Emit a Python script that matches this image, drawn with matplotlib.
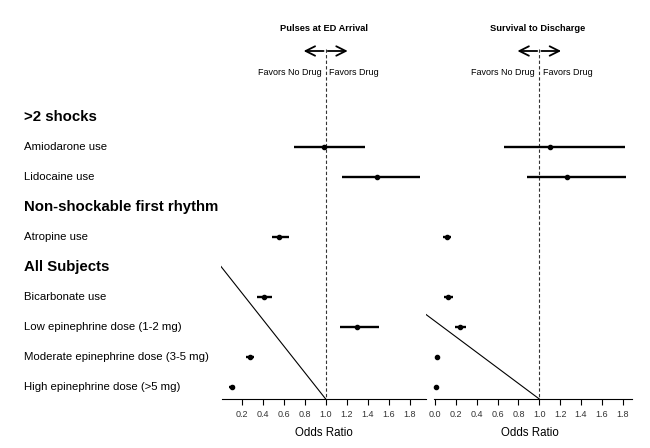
import numpy as np
import matplotlib
matplotlib.use("Agg")
import matplotlib.pyplot as plt
from matplotlib.transforms import blended_transform_factory

plt.rcParams["font.family"] = ["Liberation Sans", "DejaVu Sans"]

# Data
group_titles = [">2 shocks", "Non-shockable first rhythm", "All Subjects"]
drug_labels = ["Amiodarone use", "Lidocaine use", "Atropine use", "Bicarbonate use",
               "Low epinephrine dose (1-2 mg)", "Moderate epinephrine dose (3-5 mg)",
               "High epinephrine dose (>5 mg)"]
drug_group = [0, 0, 1, 2, 2, 2, 2]

pulses_or = [0.98, 1.49, 0.56, 0.41, 1.30, 0.28, 0.11]
pulses_lo = [0.70, 1.16, 0.49, 0.35, 1.14, 0.24, 0.08]
pulses_hi = [1.37, 1.90, 0.65, 0.49, 1.51, 0.32, 0.14]

surv_or = [1.10, 1.27, 0.11, 0.12, 0.24, 0.02, 0.005]
surv_lo = [0.66, 0.88, 0.07, 0.08, 0.19, 0.01, 0.0]
surv_hi = [1.82, 1.83, 0.15, 0.17, 0.30, 0.03, 0.01]

pulses_ticks = [0.2, 0.4, 0.6, 0.8, 1.0, 1.2, 1.4, 1.6, 1.8]
surv_ticks = [0.0, 0.2, 0.4, 0.6, 0.8, 1.0, 1.2, 1.4, 1.6, 1.8]

# stray diagonal lines in the original (x in odds ratio, y in rows)
pulses_diag_x = [0.0, 1.0]
pulses_diag_y = [4.97, 9.4]
surv_diag_x = [-0.09, 1.0]
surv_diag_y = [6.58, 9.4]

# row positions: each group title takes a row, then its drugs
title_rows = []
drug_rows = []
r = 0
for g in range(len(group_titles)):
    title_rows.append(r)
    r += 1
    for i, dg in enumerate(drug_group):
        if dg == g:
            drug_rows.append(r)
            r += 1
drug_rows = np.array(drug_rows)

fig = plt.figure(figsize=(6.5, 4.48), dpi=100)
y_bottom, y_top = 9.4, -3.9

ax1 = fig.add_axes([0.3395, 0.1094, 0.3166, 0.8906])
ax2 = fig.add_axes([0.6552, 0.1094, 0.3185, 0.8906])


def draw_panel(ax, title, est, lo, hi, ticks, xlim, spine_bounds, diag_x, diag_y):
    est = np.array(est)
    lo = np.array(lo)
    hi = np.array(hi)
    ax.set_xlim(*xlim)
    ax.set_ylim(y_bottom, y_top)
    for s in ["top", "right", "left"]:
        ax.spines[s].set_visible(False)
    ax.spines["bottom"].set_bounds(*spine_bounds)
    ax.spines["bottom"].set_linewidth(0.8)
    ax.set_yticks([])
    ax.set_xticks(ticks)
    ax.set_xticklabels([f"{t:.1f}" for t in ticks], fontsize=6.5, color="#333333")
    ax.tick_params(axis="x", length=4, width=0.8, pad=4)
    ax.set_xlabel("Odds Ratio", fontsize=8.3, labelpad=6)

    ax.plot([1.0, 1.0], [-2.27, y_bottom], ls=(0, (3, 2)), color="#333333", lw=0.8)
    ax.plot(diag_x, diag_y, color="black", lw=0.8)

    ax.errorbar(est, drug_rows, xerr=[est - lo, hi - est], fmt="o", color="black",
                ms=3.0, elinewidth=1.7, capsize=0)

    ax.text(0.98, -2.96, title, ha="center", va="center", fontsize=6.7, fontweight="bold")
    ax.annotate("", xy=(0.79, -2.2), xytext=(0.98, -2.2),
                arrowprops=dict(arrowstyle="->", lw=1.3, mutation_scale=17, shrinkA=0, shrinkB=0))
    ax.annotate("", xy=(1.21, -2.2), xytext=(1.02, -2.2),
                arrowprops=dict(arrowstyle="->", lw=1.3, mutation_scale=17, shrinkA=0, shrinkB=0))
    ax.text(0.96, -1.48, "Favors No Drug", ha="right", va="center", fontsize=6.5)
    ax.text(1.035, -1.48, "Favors Drug", ha="left", va="center", fontsize=6.5)


draw_panel(ax1, "Pulses at ED Arrival", pulses_or, pulses_lo, pulses_hi, pulses_ticks,
           (0, 1.96), (0.01, 1.96), pulses_diag_x, pulses_diag_y)
draw_panel(ax2, "Survival to Discharge", surv_or, surv_lo, surv_hi, surv_ticks,
           (-0.09, 1.9), (-0.01, 1.89), surv_diag_x, surv_diag_y)

trans = blended_transform_factory(fig.transFigure, ax1.transData)
for t, row in zip(group_titles, title_rows):
    fig.text(0.037, row, t, transform=trans, ha="left", va="center",
             fontsize=10.8, fontweight="bold")
for lab, row in zip(drug_labels, drug_rows):
    fig.text(0.037, row, lab, transform=trans, ha="left", va="center", fontsize=8.2)

fig.savefig("out.png", dpi=100)
